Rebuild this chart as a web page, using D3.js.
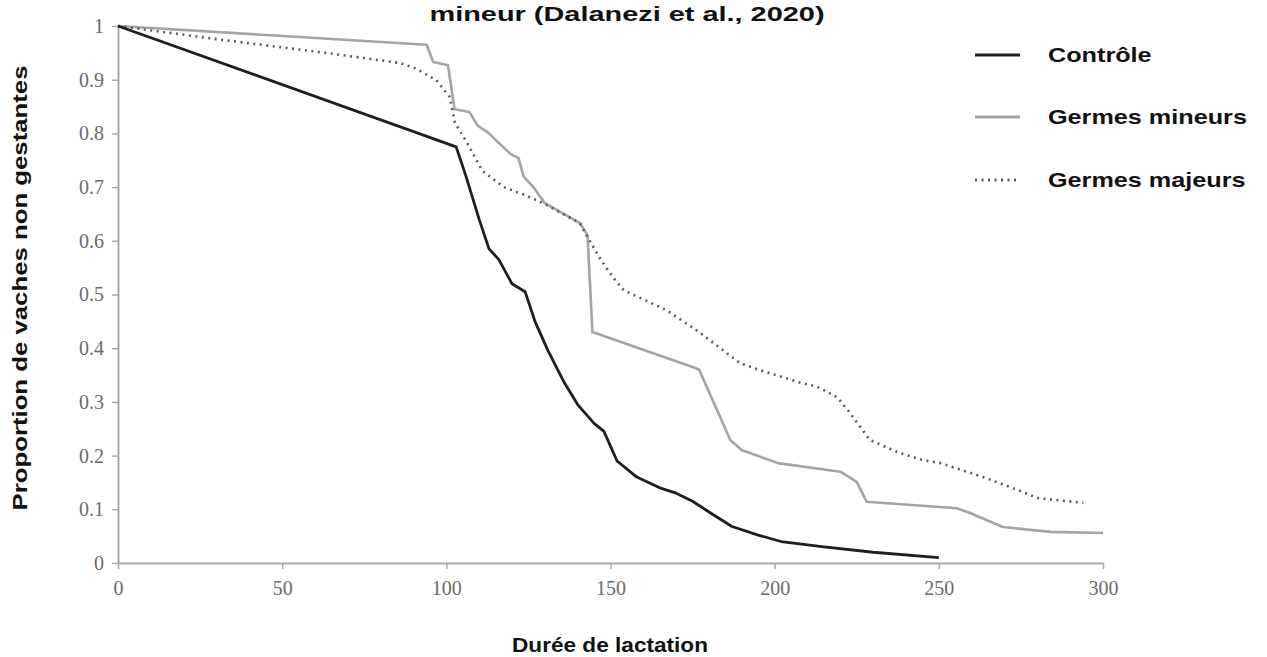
<!DOCTYPE html>
<html><head><meta charset="utf-8">
<script src="https://cdn.jsdelivr.net/npm/d3@7"></script>
<style>
html,body{margin:0;padding:0;background:#fff;}
svg{display:block;}
</style></head>
<body>
<svg id="chart" width="1267" height="657"></svg>
<script>
// ---- data ----
const titleText = "mineur (Dalanezi et al., 2020)";
const xTicks = [0, 50, 100, 150, 200, 250, 300];
const yTicks = [0, 0.1, 0.2, 0.3, 0.4, 0.5, 0.6, 0.7, 0.8, 0.9, 1];
const seriesNames = ["Contrôle", "Germes mineurs", "Germes majeurs"];

const controlDays = [0,103,106,110,113,116,120,124,127,131,136,140,145,148,152,158,165,170,175,180,187,195,202,215,230,250];
const controlValues = [1,0.775,0.72,0.64,0.585,0.565,0.52,0.505,0.45,0.395,0.335,0.295,0.26,0.245,0.19,0.16,0.14,0.13,0.115,0.095,0.068,0.052,0.04,0.03,0.02,0.01];

const mineursDays = [0,94,96,100.5,102.5,107,109.5,113,116,119.5,122,123.5,126.5,130,140.7,143,144.5,175,177,186.5,190,192.5,201,220,225,228,255.5,259.5,269.5,284,300];
const mineursValues = [1,0.965,0.933,0.927,0.845,0.84,0.815,0.80,0.782,0.762,0.754,0.72,0.70,0.67,0.633,0.61,0.43,0.365,0.36,0.229,0.21,0.205,0.186,0.17,0.151,0.114,0.102,0.093,0.067,0.058,0.056];

const majeursDays = [0,32,62,86,91,97,101,102.6,106,111,117.5,124,129.5,135,140.7,143,147,151,154,167,177,189.5,195.6,207.7,213,219,223,229,238,245,250.5,263.5,274,280,294];
const majeursValues = [1,0.974,0.951,0.931,0.92,0.899,0.868,0.82,0.786,0.73,0.70,0.685,0.67,0.652,0.633,0.607,0.565,0.53,0.508,0.471,0.43,0.372,0.359,0.336,0.328,0.309,0.279,0.229,0.205,0.192,0.186,0.16,0.136,0.121,0.112];

// ---- layout ----
const svg = d3.select("#chart");
const x = d3.scaleLinear().domain([0, 300]).range([118, 1103]);
const y = d3.scaleLinear().domain([0, 1]).range([563, 26]);

const axisColor = "#a9a9a9";
const labelColor = "#6a6a6a";
const sans = "Liberation Sans, Arial, sans-serif";

// title (top of page, as in the source figure)
svg.append("text").attr("x", 627).attr("y", 21).attr("text-anchor", "middle")
  .attr("font-family", sans).attr("font-weight", "bold")
  .attr("font-size", 21).attr("fill", "#111")
  .attr("textLength", 395).attr("lengthAdjust", "spacingAndGlyphs")
  .text(titleText);

// axes
const xAxis = svg.append("g").attr("transform", `translate(0,${y(0)})`)
  .call(d3.axisBottom(x).tickValues(xTicks).tickFormat(d3.format("d")).tickSize(6).tickSizeOuter(0).tickPadding(12));
const yAxis = svg.append("g").attr("transform", `translate(${x(0)},0)`)
  .call(d3.axisLeft(y).tickValues(yTicks).tickFormat(d => d === 0 ? "0" : d === 1 ? "1" : d3.format(".1f")(d)).tickSize(6).tickSizeOuter(0).tickPadding(8));
[xAxis, yAxis].forEach(g => {
  g.select(".domain").attr("stroke", axisColor).attr("stroke-width", 2);
  g.selectAll(".tick line").attr("stroke", axisColor).attr("stroke-width", 1.5);
  g.selectAll(".tick text").attr("fill", labelColor)
    .attr("font-family", "Liberation Serif, Times New Roman, serif").attr("font-size", 20);
});

// axis titles
svg.append("text").attr("x", 610).attr("y", 652).attr("text-anchor", "middle")
  .attr("font-family", sans).attr("font-weight", "bold")
  .attr("font-size", 21).attr("fill", "#111")
  .attr("textLength", 196).attr("lengthAdjust", "spacingAndGlyphs")
  .text("Durée de lactation");
svg.append("text").attr("transform", "translate(27,288) rotate(-90)").attr("text-anchor", "middle")
  .attr("font-family", sans).attr("font-weight", "bold")
  .attr("font-size", 21).attr("fill", "#111")
  .attr("textLength", 445).attr("lengthAdjust", "spacingAndGlyphs")
  .text("Proportion de vaches non gestantes");

// series
const styles = [
  {color: "#1e1e1e", width: 2.8, dash: null},
  {color: "#a4a4a4", width: 2.6, dash: null},
  {color: "#5a5a5a", width: 2.6, dash: "2,4.5"}
];
const series = [
  controlDays.map((d, i) => [d, controlValues[i]]),
  mineursDays.map((d, i) => [d, mineursValues[i]]),
  majeursDays.map((d, i) => [d, majeursValues[i]])
];
const line = d3.line().x(d => x(d[0])).y(d => y(d[1]));
[1, 2, 0].forEach(i => {
  svg.append("path").datum(series[i]).attr("d", line)
    .attr("fill", "none").attr("stroke", styles[i].color)
    .attr("stroke-width", styles[i].width)
    .attr("stroke-linejoin", "round")
    .attr("stroke-dasharray", styles[i].dash);
});

// legend
const legendY = [55, 117, 180];
seriesNames.forEach((name, i) => {
  svg.append("line").attr("x1", 975).attr("x2", 1020).attr("y1", legendY[i]).attr("y2", legendY[i])
    .attr("stroke", styles[i].color).attr("stroke-width", i === 0 ? 3.2 : 2.8)
    .attr("stroke-dasharray", styles[i].dash);
  const t = svg.append("text").attr("x", 1048).attr("y", legendY[i]).attr("dy", "0.35em")
    .attr("font-family", sans).attr("font-weight", "bold")
    .attr("font-size", 21).attr("fill", "#111").text(name);
  const w = t.node().getComputedTextLength();
  t.attr("textLength", w * 1.2).attr("lengthAdjust", "spacingAndGlyphs");
});
</script>
</body></html>
